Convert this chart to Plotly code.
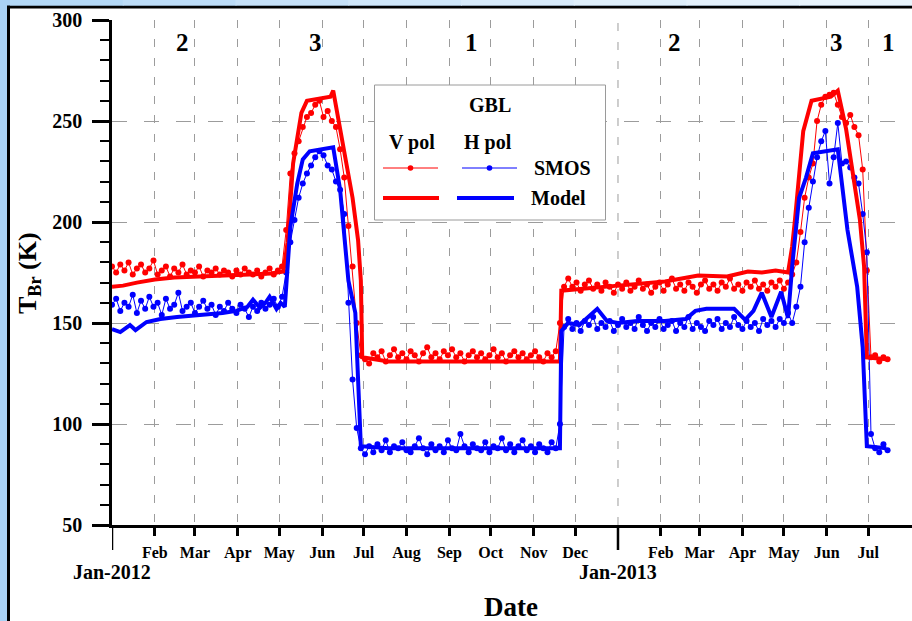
import datetime as dt
import plotly.graph_objects as go

START = dt.date(2012, 1, 1)

# SMOS brightness temperatures, one sample every third day from 2012-01-01
smos_days = list(range(0, 562, 3))
smos_v = [
    178, 175, 179, 176, 180, 174, 177, 179, 175, 177,
    181, 174, 176, 178, 173, 177, 175, 179, 174, 176,
    175, 178, 173, 176, 175, 177, 174, 176, 175, 173,
    176, 174, 177, 175, 174, 176, 173, 175, 177, 174,
    176, 178, 196, 224, 234, 240, 247, 252, 254, 258,
    260, 252, 255, 250, 247, 236, 222, 198, 178, 150,
    134, 132, 130, 135, 133, 136, 131, 134, 137, 133,
    135, 132, 136, 134, 131, 135, 138, 133, 135, 132,
    136, 134, 137, 133, 135, 131, 134, 136, 133, 135,
    132, 134, 137, 133, 135, 131, 134, 136, 133, 135,
    132, 134, 136, 133, 131, 135, 133, 136, 150, 168,
    172, 168, 170, 166, 169, 171, 167, 169, 166, 170,
    168, 165, 169, 167, 170, 166, 168, 171, 167, 169,
    165, 168, 170, 166, 169, 172, 167, 169, 166, 170,
    168, 165, 169, 171, 167, 169, 166, 170, 168, 172,
    167, 169, 166, 170, 168, 171, 167, 169, 166, 170,
    168, 171, 167, 170, 174, 180, 195, 212, 222, 229,
    250, 258, 262, 263, 264, 258, 252, 249, 253, 247,
    243, 226, 176, 133, 134, 131, 133, 132,
]
smos_h = [
    159, 162, 156, 160, 158, 164, 155, 161, 157, 163,
    158, 160, 154, 162, 157, 159, 165, 156, 158, 160,
    155, 158, 161, 157, 159, 154, 158, 156, 160, 157,
    155, 159, 157, 153, 158, 156, 160, 157, 159, 162,
    158, 163, 175, 190, 201, 212, 219, 224, 228, 232,
    235, 233, 228, 226, 220, 216, 204, 160, 122, 98,
    88, 85, 89, 86, 90, 87, 92, 86, 89, 88,
    91, 87, 86, 89, 93, 88, 85, 90, 87, 89,
    86, 92, 88, 87, 95, 89, 86, 90, 88, 87,
    91, 86, 89, 88, 93, 87, 90, 86, 89, 92,
    87, 89, 86, 90, 88, 86, 91, 88, 100, 148,
    152, 147, 150, 146, 151, 149, 153, 147, 150, 148,
    151, 146, 149, 152, 148, 150, 147, 153, 149, 146,
    150, 148, 152, 147, 149, 151, 146, 150, 148, 153,
    147, 150, 148, 146, 151, 149, 152, 147, 150, 148,
    153, 149, 147, 151, 148, 150, 146, 152, 149, 151,
    148, 152, 150, 155, 150, 158, 168, 190, 207, 220,
    232, 240, 245, 219, 232, 249, 229, 230, 227, 222,
    219, 204, 185, 95, 88, 86, 90, 87,
]

# Modelled brightness temperatures
model_v_days = [
    0, 8, 18, 31, 45, 60, 80, 100, 115, 124,
    127, 131, 137, 141, 158, 160, 163, 170, 174, 178,
    180, 181, 200, 250, 300, 324, 325, 340, 366, 400,
    424, 445, 460, 470, 480, 489, 492, 494, 500, 506,
    520, 525, 531, 541, 544, 546, 560,
]
model_v = [
    168, 168.5, 170, 171.5, 172.5, 173, 173.5, 174, 174.5, 175.5,
    190, 229, 254, 260, 262, 265, 254, 229, 212, 191,
    171, 133, 131, 131, 131, 131, 166, 167, 168.5, 170.5,
    173.5, 173, 175.5, 175, 176, 175, 188, 201, 245, 260,
    262, 265, 246, 201, 178, 133, 132,
]
model_h_days = [
    0, 6, 13, 17, 25, 35, 47, 65, 80, 90,
    98, 102, 107, 111, 114, 119, 122, 125, 129, 134,
    138, 143, 160, 165, 171, 176, 178, 180, 200, 300,
    324, 325, 330, 338, 345, 351, 358, 366, 380, 400,
    415, 422, 430, 450, 458, 464, 470, 477, 484, 489,
    492, 497, 502, 507, 525, 532, 539, 543, 546, 560,
]
model_h = [
    147, 145.5, 149, 146.5, 150.5, 152, 153, 154, 155, 156,
    158, 161.5, 157.5, 160, 163, 157, 160, 158, 197.5, 219,
    231, 235, 237, 216, 171, 155, 122, 89, 88, 88,
    88, 146, 150, 149, 153, 157, 151, 150, 151, 151,
    152, 156, 157, 157, 151.5, 156, 165, 153, 165.5, 152.5,
    178, 212, 222, 234, 236, 196, 168, 138, 89, 88,
]

month_ticks = [
    "2012-02-01", "2012-03-01", "2012-04-01", "2012-05-01",
    "2012-06-01", "2012-07-01", "2012-08-01", "2012-09-01", "2012-10-01",
    "2012-11-01", "2012-12-01", "2013-02-01", "2013-03-01",
    "2013-04-01", "2013-05-01", "2013-06-01", "2013-07-01",
]
month_labels = [
    "Feb", "Mar", "Apr", "May", "Jun", "Jul", "Aug", "Sep", "Oct",
    "Nov", "Dec", "Feb", "Mar", "Apr", "May", "Jun", "Jul",
]
year_ticks = ["2012-01-01", "2013-01-01"]
year_labels = ["Jan-2012", "Jan-2013"]

zone_labels = ["2", "3", "1", "2", "3", "1"]
zone_dates = ["2012-02-21", "2012-05-27", "2012-09-17",
              "2013-02-11", "2013-06-08", "2013-07-16"]
zone_level = 289

y_ticks = [50, 100, 150, 200, 250, 300]

RED = "#ff0000"
BLUE = "#0000ff"
GRID = "#9c9c9c"
FONT = "Liberation Serif"


def to_dates(days):
    return [START + dt.timedelta(days=d) for d in days]


fig = go.Figure()
fig.add_trace(go.Scatter(x=to_dates(smos_days), y=smos_v, mode="lines+markers",
                         line=dict(color=RED, width=1), marker=dict(color=RED, size=6),
                         name="SMOS V pol"))
fig.add_trace(go.Scatter(x=to_dates(smos_days), y=smos_h, mode="lines+markers",
                         line=dict(color=BLUE, width=1), marker=dict(color=BLUE, size=6),
                         name="SMOS H pol"))
fig.add_trace(go.Scatter(x=to_dates(model_v_days), y=model_v, mode="lines",
                         line=dict(color=RED, width=4), name="Model V pol"))
fig.add_trace(go.Scatter(x=to_dates(model_h_days), y=model_h, mode="lines",
                         line=dict(color=BLUE, width=4), name="Model H pol"))

# plot area geometry (pixels) used for the frame and the legend panel
L, T, W, H = 112, 20, 800, 505


def px(x):
    return (x - L) / W


def py(y):
    return (T + H - y) / H


shapes = []
# outer frame
shapes.append(dict(type="rect", xref="paper", yref="paper", layer="below",
                   x0=px(8.5), x1=1.05, y0=-0.3, y1=py(7),
                   line=dict(color="black", width=3), fillcolor="white"))
# light-blue band along the top edge
band = ["#b3d8f6", "#bcdcf7", "#c6e1f8", "#cfe6f9", "#d7eafa", "#deeefa", "#e4f1fb", "#e9f4fc"]
for i, c in enumerate(band):
    shapes.append(dict(type="rect", xref="paper", yref="paper", layer="below",
                       x0=px(10 + i * 902 / len(band)), x1=px(10 + (i + 1) * 902 / len(band) + 1),
                       y0=py(5.5), y1=py(-2), line=dict(width=0), fillcolor=c))
# year boundary: dashed grid line in the plot, long tick below the axis
shapes.append(dict(type="line", xref="x", yref="paper", layer="below",
                   x0=year_ticks[1], x1=year_ticks[1], y0=0, y1=1,
                   line=dict(color=GRID, width=1, dash="8px,11px")))
for d in year_ticks:
    shapes.append(dict(type="line", xref="x", yref="paper", x0=d, x1=d,
                       y0=0, y1=-25 / H, line=dict(color="black", width=2.5)))

# legend panel
shapes.append(dict(type="rect", xref="paper", yref="paper",
                   x0=px(374.5), x1=px(605.5), y0=py(220), y1=py(85),
                   line=dict(color="#9a9a9a", width=1), fillcolor="white"))
for x0, x1, col in [(383, 438, RED), (462, 517, BLUE)]:
    shapes.append(dict(type="line", xref="paper", yref="paper",
                       x0=px(x0), x1=px(x1), y0=py(168), y1=py(168),
                       line=dict(color=col, width=1)))
    cx = px((x0 + x1) / 2)
    shapes.append(dict(type="circle", xref="paper", yref="paper",
                       xsizemode="pixel", ysizemode="pixel",
                       xanchor=cx, yanchor=py(168), x0=-2.8, x1=2.8, y0=-2.8, y1=2.8,
                       line=dict(width=0), fillcolor=col))
for x0, x1, col in [(383, 439, RED), (457, 514, BLUE)]:
    shapes.append(dict(type="line", xref="paper", yref="paper",
                       x0=px(x0), x1=px(x1), y0=py(198), y1=py(198),
                       line=dict(color=col, width=4)))

bold = dict(family=FONT, color="black", weight="bold")
annotations = []
for txt, x, y in [("GBL", 490, 105), ("V pol", 412, 142), ("H pol", 488, 142),
                  ("SMOS", 562, 168), ("Model", 558, 198)]:
    annotations.append(dict(text=txt, xref="paper", yref="paper", x=px(x), y=py(y),
                            xanchor="center", yanchor="middle", showarrow=False,
                            font=dict(bold, size=20)))
for lab, d in zip(zone_labels, zone_dates):
    annotations.append(dict(text=lab, xref="x", yref="y", x=d, y=zone_level,
                            xanchor="center", yanchor="middle", showarrow=False,
                            font=dict(bold, size=25)))
for lab, d in zip(year_labels, year_ticks):
    annotations.append(dict(text=lab, xref="x", yref="paper", x=d, y=py(572),
                            xanchor="center", yanchor="middle", showarrow=False,
                            font=dict(bold, size=20)))
annotations.append(dict(text="Date", xref="paper", yref="paper", x=px(511), y=py(607),
                        xanchor="center", yanchor="middle", showarrow=False,
                        font=dict(bold, size=27)))
annotations.append(dict(text="T<sub>Br</sub> (K)", xref="paper", yref="paper",
                        x=px(29), y=py(273), textangle=-90,
                        xanchor="center", yanchor="middle", showarrow=False,
                        font=dict(bold, size=26)))

fig.update_layout(
    width=912, height=621,
    margin=dict(l=L, r=912 - L - W, t=T, b=621 - T - H),
    paper_bgcolor="#a9d2f5",
    plot_bgcolor="rgba(0,0,0,0)",
    showlegend=False,
    font=dict(family=FONT, color="black", weight="bold"),
    shapes=shapes,
    annotations=annotations,
    xaxis=dict(
        type="date", range=["2012-01-01", "2013-08-01 16:00"],
        tickmode="array", tickvals=month_ticks, ticktext=month_labels,
        ticks="outside", ticklen=8, tickwidth=2.5, tickcolor="black",
        ticklabelstandoff=3,
        tickfont=dict(bold, size=16),
        showline=True, linecolor="black", linewidth=2.5,
        showgrid=True, gridcolor=GRID, gridwidth=1, griddash="8px,11px",
        zeroline=False,
    ),
    yaxis=dict(
        range=[50, 300], tickmode="array", tickvals=y_ticks,
        ticks="outside", ticklen=17, tickwidth=2.5, tickcolor="black",
        ticklabelstandoff=6,
        tickfont=dict(bold, size=20),
        minor=dict(dtick=10, ticks="outside", ticklen=9, tickwidth=2, tickcolor="black",
                   showgrid=False),
        showline=True, linecolor="black", linewidth=2.5,
        showgrid=True, gridcolor=GRID, gridwidth=1, griddash="15px,17px",
        zeroline=False,
    ),
)

fig.write_html("out.html")
